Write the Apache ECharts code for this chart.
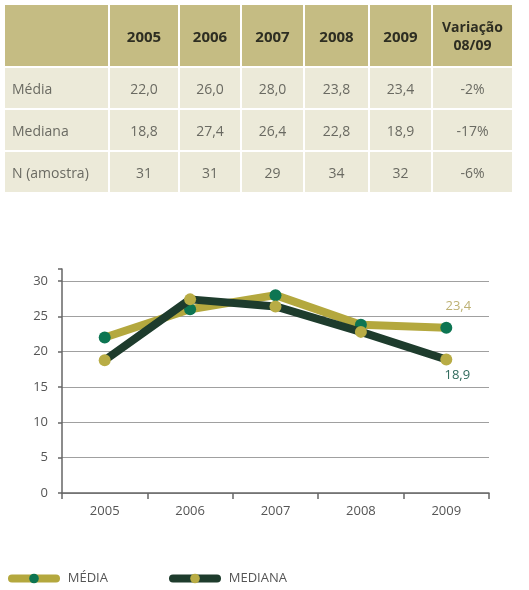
<!DOCTYPE html>
<html><head><meta charset="utf-8">
<script src="https://cdn.jsdelivr.net/npm/echarts@6/dist/echarts.min.js"></script>
<style>
html,body{margin:0;padding:0;background:#fff;}
#chart{position:absolute;left:0;top:0;width:529px;height:590px;}
#tbl{position:absolute;left:3px;top:3px;border-collapse:collapse;table-layout:fixed;font-family:"Open Sans",sans-serif;}
#tbl td{border:2px solid #fff;padding:0;text-align:center;color:#6a6a62;font-size:14px;}
#tbl tr.h td{background:#c5bc83;color:#2e2e22;font-weight:bold;font-size:15px;height:61px;}
#tbl tr.b td{background:#ecead9;height:40px;}
#tbl td.first{text-align:left;padding-left:7px;}
</style></head>
<body>
<div id="chart"></div>
<table id="tbl"></table>
<script>
const years = ['2005','2006','2007','2008','2009'];
const media = [22.0, 26.0, 28.0, 23.8, 23.4];
const mediana = [18.8, 27.4, 26.4, 22.8, 18.9];
const amostra = [31, 31, 29, 34, 32];
const variacao = ['-2%','-17%','-6%'];
const rowLabels = ['Média','Mediana','N (amostra)'];
const varHeader = 'Variação<br>08/09';
const yTicks = [0,5,10,15,20,25,30];

const fmt = v => String(v.toFixed ? v.toFixed(1) : v).replace('.', ',');

// table
const colW = [105,70,62,63,65,63,81];
const tbl = document.getElementById('tbl');
let html = '<colgroup>' + colW.map(w=>'<col style="width:'+w+'px">').join('') + '</colgroup>';
html += '<tr class="h"><td class="first"></td>' + years.map(y=>'<td>'+y+'</td>').join('') + '<td style="font-size:14px;line-height:18px">'+varHeader+'</td></tr>';
const rows = [media.map(fmt), mediana.map(fmt), amostra.map(String)];
rows.forEach((r,i)=>{
  html += '<tr class="b"><td class="first">'+rowLabels[i]+'</td>' + r.map(v=>'<td>'+v+'</td>').join('') + '<td>'+variacao[i]+'</td></tr>';
});
tbl.innerHTML = html;

const OLIVE = '#b4a83e', DARK = '#1e3c2d', TEAL = '#0d7552', OLIVEDOT = '#b8ac45';
const chart = echarts.init(document.getElementById('chart'));
const lastLabel = (arr, color, pos, off) => arr.map((v,i)=> i===arr.length-1 ? {value:v, label:{show:true, formatter:p=>fmt(p.value), color:color, fontSize:13, fontFamily:'Open Sans', position:pos, offset:off}} : v);
const legendBase = {top:572, padding:0, itemWidth:44, itemHeight:12, itemGap:0,
  lineStyle:{width:8, cap:'round'}, formatter:n=>'  ' + n.toUpperCase(),
  textStyle:{color:'#555', fontSize:13, fontFamily:'Open Sans'}};
chart.setOption({
  animation:false,
  grid:[{left:62, right:40, top:281, bottom:97},{left:62, right:40, top:269, bottom:97}],
  xAxis:[{type:'category', data:years, gridIndex:0, boundaryGap:true,
    axisLine:{lineStyle:{color:'#666', width:1.5}},
    axisTick:{show:true, length:6, lineStyle:{color:'#666', width:1.5}},
    axisLabel:{color:'#555', fontSize:13, fontFamily:'Open Sans', margin:12}},
    {type:'category', data:years, gridIndex:1, show:false}],
  yAxis:[{type:'value', gridIndex:0, min:yTicks[0], max:yTicks[yTicks.length-1], interval:5,
    axisLine:{show:false},
    axisTick:{show:false},
    splitLine:{lineStyle:{color:'#a0a0a0', width:1}},
    axisLabel:{color:'#555', fontSize:13, fontFamily:'Open Sans', margin:14}},
    {type:'value', gridIndex:1, min:0, max:31.7, interval:5,
    axisLine:{show:true, lineStyle:{color:'#666', width:1.5}},
    axisTick:{show:true, length:4, lineStyle:{color:'#666', width:1.5}},
    axisLabel:{show:false}, splitLine:{show:false}}],
  legend:[Object.assign({left:8, data:['Média']}, legendBase),
    Object.assign({left:169, data:['Mediana']}, legendBase)],
  series:[
    {name:'Média', type:'line', xAxisIndex:0, yAxisIndex:0, data:lastLabel(media, '#bdb174', 'top', [12,-4]),
      symbol:'circle', symbolSize:12, showSymbol:true,
      lineStyle:{color:OLIVE, width:8, cap:'round', join:'round'}, itemStyle:{color:TEAL}, z:2},
    {name:'Mediana', type:'line', xAxisIndex:0, yAxisIndex:0, data:lastLabel(mediana, '#2f6a5c', 'bottom', [11,-2]),
      symbol:'circle', symbolSize:12, showSymbol:true,
      lineStyle:{color:DARK, width:8, cap:'round', join:'round'}, itemStyle:{color:OLIVEDOT}, z:3}
  ]
});
</script>
</body></html>
